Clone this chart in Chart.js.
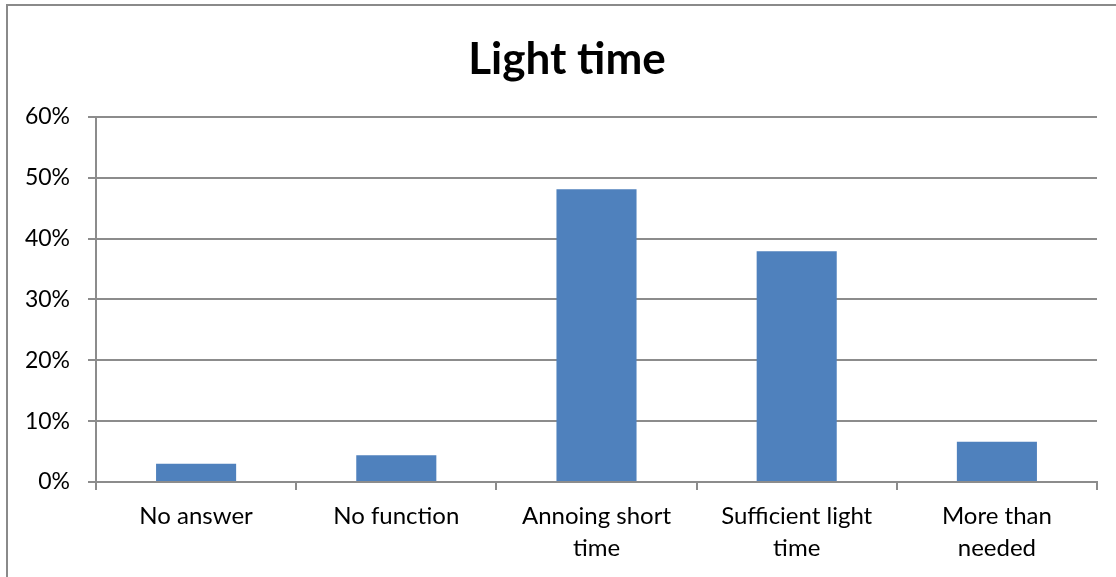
<!DOCTYPE html>
<html>
<head>
<meta charset="utf-8">
<script src="https://cdn.jsdelivr.net/npm/chart.js@4.4.1/dist/chart.umd.min.js"></script>
<style>
  body { margin: 0; background: #fff; overflow: hidden; }
  #wrap { position: relative; width: 1116px; height: 577px; overflow: hidden; }
  #frame { position: absolute; left: 6px; top: 4px; width: 1200px; height: 700px; border: 2px solid #8a8a8a; box-sizing: border-box; pointer-events: none; }
</style>
</head>
<body>
<div id="wrap">
  <canvas id="mycanvas" width="1116" height="577"></canvas>
  <div id="frame"></div>
</div>
<script>
var categories = [['No answer'], ['No function'], ['Annoing short', 'time'], ['Sufficient light', 'time'], ['More than', 'needed']];
var shares = [3.0, 4.4, 48.1, 37.9, 6.6];
var yTicks = [0, 10, 20, 30, 40, 50, 60];

var gridGrey = '#8c8c8c';
var font = 'Lato, "Open Sans", sans-serif';

// nudge the title a bit right, like the original
var titleShift = {
	id: 'titleShift',
	afterLayout: function(chart) {
		chart.titleBlock.left += 37;
	}
};

var ctx = document.getElementById('mycanvas');

var barGraph = new Chart(ctx, {
	type: 'bar',
	data: {
		labels: categories,
		datasets: [{
			label: 'Light time',
			backgroundColor: '#4f81bd',
			borderColor: '#4f81bd',
			borderWidth: 0,
			categoryPercentage: 1,
			barPercentage: 0.4,
			data: shares
		}]
	},
	options: {
		responsive: false,
		animation: false,
		layout: { padding: { left: 0, right: 19, top: 0, bottom: 0 } },
		plugins: {
			legend: { display: false },
			tooltip: { enabled: false },
			title: {
				display: true,
				text: 'Light time',
				color: '#000',
				font: { family: font, size: 44, weight: 'bold', lineHeight: 1.2 },
				padding: { top: 33, bottom: 31 }
			}
		},
		scales: {
			x: {
				grid: { drawOnChartArea: false, drawTicks: true, tickLength: 8, color: gridGrey, lineWidth: 2 },
				border: { display: true, color: gridGrey, width: 2 },
				ticks: { color: '#000', font: { family: font, size: 24, lineHeight: 1.3 }, padding: 11, maxRotation: 0, autoSkip: false },
				afterFit: function(scale) { scale.height = 95; }
			},
			y: {
				min: 0,
				max: 60,
				afterBuildTicks: function(scale) {
					scale.ticks = yTicks.map(function(v) { return { value: v }; });
				},
				grid: { color: gridGrey, lineWidth: 2, tickLength: 8 },
				border: { display: true, color: gridGrey, width: 2 },
				ticks: {
					color: '#000',
					font: { family: font, size: 23 },
					padding: 18,
					callback: function(v) { return v + '%'; }
				},
				afterFit: function(scale) { scale.width = 96; }
			}
		}
	},
	plugins: [titleShift]
});
</script>
</body>
</html>
